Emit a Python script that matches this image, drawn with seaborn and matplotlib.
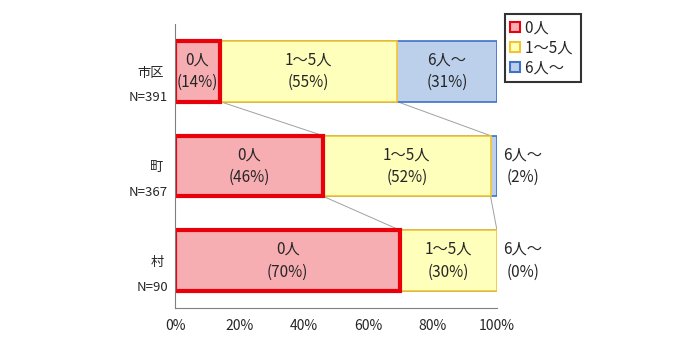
import matplotlib
matplotlib.use("Agg")
import matplotlib.pyplot as plt
from matplotlib.patches import Patch
import seaborn as sns
import numpy as np

# data
areas = ["市区", "町", "村"]
sizes = ["N=391", "N=367", "N=90"]
groups = ["0人", "1～5人", "6人～"]
zero = [14, 46, 70]
one_to_five = [55, 52, 30]
six_plus = [31, 2, 0]

sns.set_style("white")
plt.rcParams['font.family'] = ['Noto Sans CJK JP', 'DejaVu Sans']

fills = ["#F7AEB3", "#FFFFBC", "#BCD0EC"]
edges = ["#E8000B", "#F2C530", "#3D72C4"]
widths = [3.0, 1.2, 1.2]

fig = plt.figure(figsize=(6.93, 3.62), dpi=100)
ax = fig.add_axes([175 / 693, 1 - 308 / 362, 322 / 693, 284 / 362])

c1 = np.array(zero)
c2 = c1 + np.array(one_to_five)
c3 = c2 + np.array(six_plus)
bar_h = 0.64

# stacked by drawing cumulative layers back to front
for cum, i in [(c3, 2), (c2, 1), (c1, 0)]:
    sns.barplot(x=cum, y=areas, orient="h", color=fills[i], edgecolor=edges[i],
                linewidth=widths[i], width=bar_h, saturation=1, ax=ax)

# connector lines between bars
for k in range(len(areas) - 1):
    for cum in (c1, c2, c3):
        ax.plot([cum[k], cum[k + 1]], [k + bar_h / 2, k + 1 - bar_h / 2],
                color="#A0A0A0", lw=0.7, zorder=0)

# segment labels
lab_fs = 11
for k in range(len(areas)):
    vals = [zero[k], one_to_five[k], six_plus[k]]
    starts = [0, c1[k], c2[k]]
    for j in range(3):
        txt = f"{groups[j]}\n({vals[j]}%)"
        if vals[j] >= 10:
            ax.text(starts[j] + vals[j] / 2, k, txt, ha="center", va="center",
                    fontsize=lab_fs, linespacing=1.45)
        else:
            ax.text(108, k, txt, ha="center", va="center", fontsize=lab_fs,
                    linespacing=1.45, clip_on=False)

ax.set_xlim(0, 100)
ax.set_ylim(2.5, -0.5)
ax.set_xticks(range(0, 101, 20))
ax.set_xticklabels([f"{v}%" for v in range(0, 101, 20)], fontsize=10)
ax.set_yticks([-0.5, 0.5, 1.5, 2.5])
ax.set_yticklabels([])
ax.set_xlabel("")
ax.set_ylabel("")
ax.tick_params(axis="both", direction="in", length=4, color="#808080", width=0.8)
ax.tick_params(axis="x", pad=8)
for s in ["top", "right"]:
    ax.spines[s].set_visible(False)
for s in ["left", "bottom"]:
    ax.spines[s].set_color("#808080")
    ax.spines[s].set_linewidth(0.8)

for k in range(len(areas)):
    ax.text(-3.5, k + 0.02, areas[k], ha="right", va="center", fontsize=9.5)
    ax.text(-2.2, k + 0.28, sizes[k], ha="right", va="center", fontsize=9.5)

handles = [Patch(facecolor=fills[i], edgecolor=edges[i], linewidth=1.5) for i in range(3)]
leg = fig.legend(handles, groups, loc="upper left",
                 bbox_to_anchor=(505 / 693, 1 - 14 / 362), fontsize=11,
                 frameon=True, fancybox=False, handlelength=0.6, handleheight=0.6,
                 handletextpad=0.35, borderpad=0.35, labelspacing=0.2,
                 borderaxespad=0)
leg.get_frame().set_edgecolor("black")
leg.get_frame().set_linewidth(1.5)
# widen the box a little on the right like the original
for t in leg.get_texts():
    t.set_text(t.get_text() + " ")

fig.savefig("out.png", dpi=100)
